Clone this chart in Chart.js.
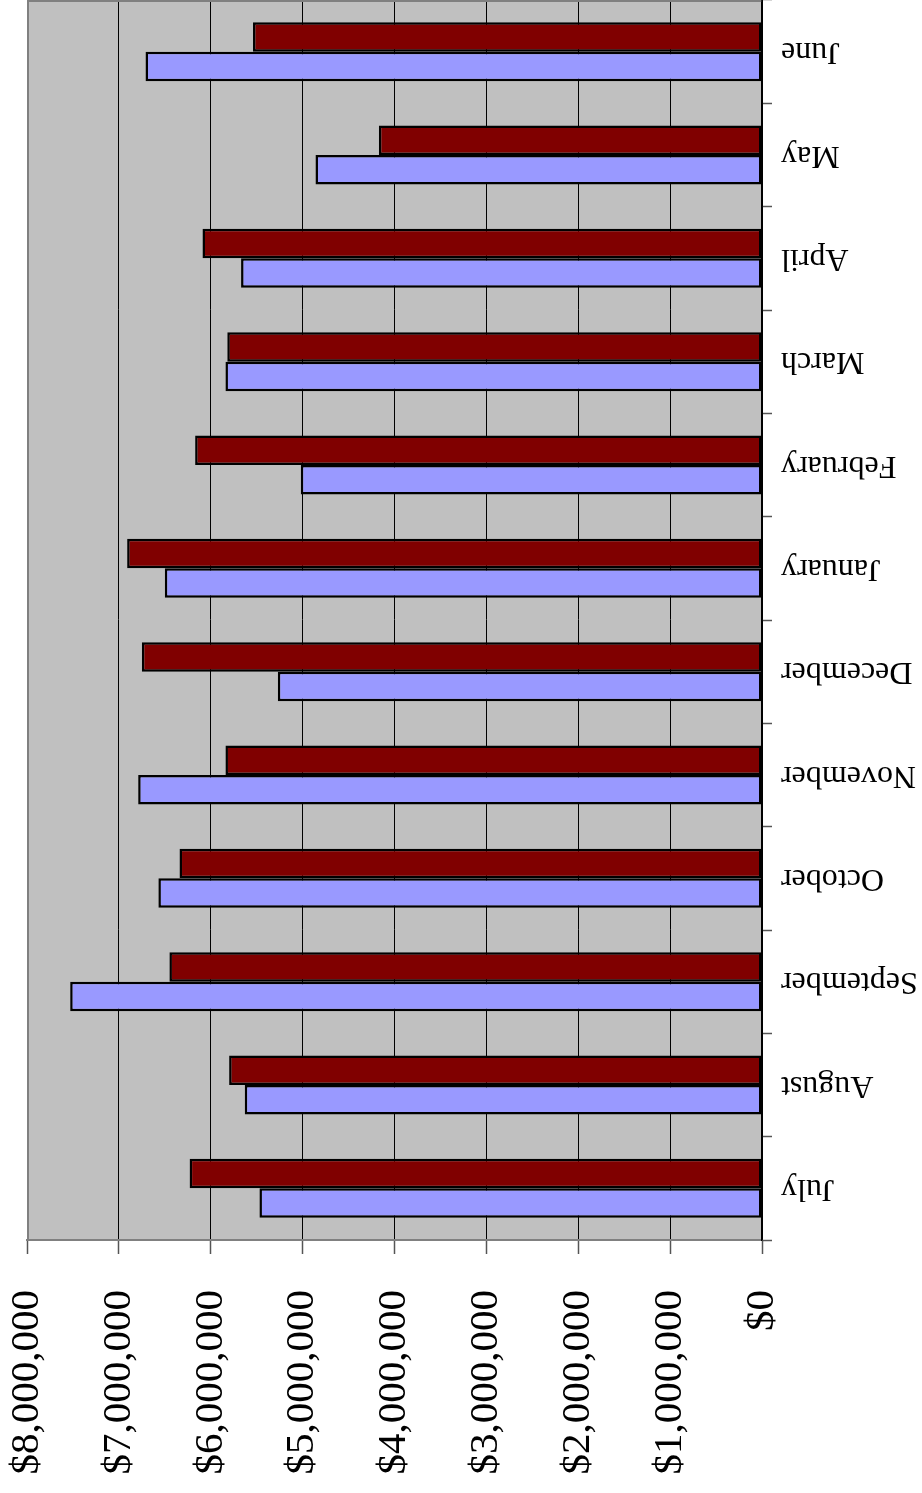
<!DOCTYPE html>
<html>
<head>
<meta charset="utf-8">
<script src="https://cdn.jsdelivr.net/npm/chart.js@4/dist/chart.umd.min.js"></script>
<style>
  html, body { margin: 0; padding: 0; background: #fff; }
  #wrap { width: 922px; height: 1493px; }
</style>
</head>
<body>
<div id="wrap"><canvas id="salesChart" width="922" height="1493"></canvas></div>
<script>
const months = ['July', 'August', 'September', 'October', 'November', 'December',
                'January', 'February', 'March', 'April', 'May', 'June'];
const redSeries = [6230000, 5800000, 6450000, 6340000, 5840000, 6750000,
                   6910000, 6170000, 5820000, 6090000, 4170000, 5540000];
const blueSeries = [5470000, 5630000, 7530000, 6570000, 6790000, 5270000,
                    6500000, 5020000, 5840000, 5670000, 4860000, 6710000];
const valueTicks = [0, 1000000, 2000000, 3000000, 4000000, 5000000, 6000000, 7000000, 8000000];

const serif = '"Liberation Serif", "Times New Roman", Times, serif';

const plotArea = {
    id: 'plotArea',
    beforeDraw(chart) {
        const {ctx, chartArea: a} = chart;
        ctx.save();
        ctx.fillStyle = '#C0C0C0';
        ctx.fillRect(a.left, a.top, a.right - a.left, a.bottom - a.top);
        ctx.restore();
    },
    beforeDatasetsDraw(chart) {
        const {ctx, chartArea: a} = chart;
        ctx.save();
        ctx.strokeStyle = '#808080';
        ctx.lineWidth = 2;
        ctx.beginPath();
        ctx.moveTo(a.right, a.top + 1);
        ctx.lineTo(a.left + 1, a.top + 1);
        ctx.lineTo(a.left + 1, a.bottom);
        ctx.stroke();
        ctx.strokeStyle = '#000';
        ctx.lineWidth = 1.5;
        ctx.beginPath();
        ctx.moveTo(a.right, a.top);
        ctx.lineTo(a.right, a.bottom);
        ctx.stroke();
        ctx.restore();
    }
};

function drawChart() {
    const ctx = document.getElementById('salesChart').getContext('2d');
    new Chart(ctx, {
        type: 'bar',
        data: {
            labels: months,
            datasets: [{
                data: redSeries,
                backgroundColor: '#800000',
                borderColor: '#000',
                borderWidth: 2.5,
                borderSkipped: false,
                categoryPercentage: 0.571,
                barPercentage: 1.0
            }, {
                data: blueSeries,
                backgroundColor: '#9999FF',
                borderColor: '#000',
                borderWidth: 2.5,
                borderSkipped: false,
                categoryPercentage: 0.571,
                barPercentage: 1.0
            }]
        },
        options: {
            indexAxis: 'y',
            responsive: false,
            animation: false,
            layout: { padding: { top: 0, left: 27, right: 142, bottom: 0 } },
            plugins: { legend: { display: false }, tooltip: { enabled: false } },
            scales: {
                x: {
                    position: 'bottom',
                    reverse: true,
                    min: 0,
                    max: 8000000,
                    afterBuildTicks: (scale) => { scale.ticks = valueTicks.map(v => ({ value: v })); },
                    afterFit: (scale) => { scale.height = 253; scale.paddingLeft = 0; scale.paddingRight = 0; },
                    grid: {
                        color: '#000',
                        lineWidth: 1,
                        tickLength: 14,
                        tickColor: '#555',
                        tickWidth: 1.5
                    },
                    border: { display: true, color: '#808080', width: 2 },
                    ticks: {
                        minRotation: 90,
                        maxRotation: 90,
                        padding: 36,
                        color: '#000',
                        font: { family: serif, size: 41 },
                        callback: (v) => '$' + Number(v).toLocaleString('en-US')
                    }
                },
                y: {
                    position: 'right',
                    reverse: true,
                    afterFit: (scale) => { scale.width = 18; scale.paddingTop = 0; scale.paddingBottom = 0; },
                    grid: {
                        drawOnChartArea: false,
                        offset: true,
                        tickLength: 10,
                        tickColor: '#555',
                        tickWidth: 1.5
                    },
                    border: { display: true, color: '#000', width: 1.5 },
                    ticks: {
                        minRotation: 180,
                        maxRotation: 180,
                        mirror: true,
                        crossAlign: 'near',
                        padding: 19,
                        autoSkip: false,
                        color: '#000',
                        font: { family: serif, size: 32 }
                    }
                }
            }
        },
        plugins: [plotArea]
    });
}

Promise.all([
    document.fonts.load('41px "Liberation Serif"'),
    document.fonts.load('32px "Liberation Serif"')
]).then(drawChart, drawChart);
</script>
</body>
</html>
